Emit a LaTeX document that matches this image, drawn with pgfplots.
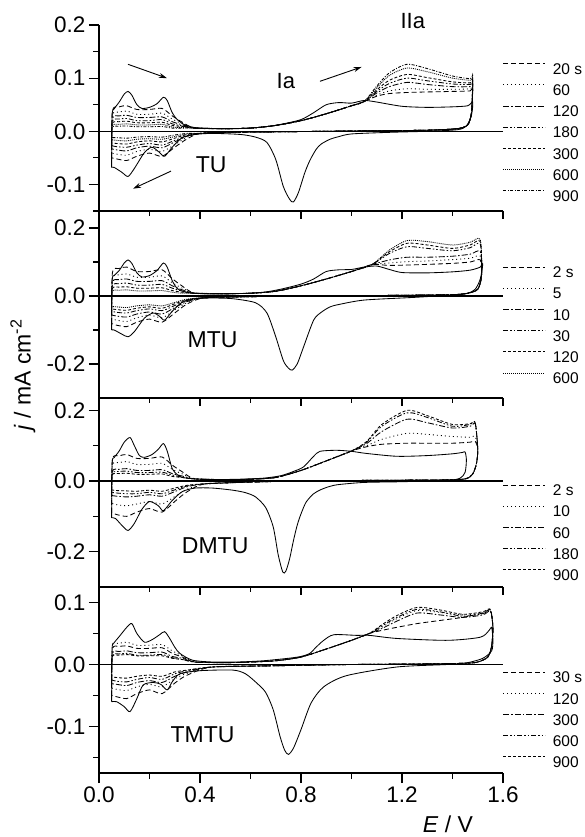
\documentclass[border=0pt]{standalone}
\usepackage{fontspec}
\setmainfont{Liberation Sans}
\usepackage{pgfplots}
\pgfplotsset{compat=1.18}
\usetikzlibrary{arrows.meta}

\pgfplotsset{
  cvbase/.style={
    scale only axis, width=404pt, anchor=south west,
    xmin=0, xmax=1.6, clip=false,
    axis line style={line width=1.2pt},
    every tick/.style={line width=1.1pt, black},
    major tick length=10pt, minor tick length=6pt,
    tick align=outside,
    /pgf/number format/.cd, fixed, fixed zerofill, precision=1, assume math mode=true, /pgfplots/.cd,
    ticklabel style={font=\fontsize{22.5}{22.5}\selectfont},
    axis y line*=left,
    legend cell align=left,
    legend style={draw=none, fill=none, anchor=north west, inner sep=0pt, outer sep=0pt,
      row sep=10pt, column sep=7pt, font=\fontsize{15.5}{15.5}\selectfont,
      nodes={inner sep=0pt, text height=10.75pt, text depth=0pt}},
    legend image code/.code={\draw[#1] (0pt,5.4pt) -- (42pt,5.4pt);},
  },
  topframe/.style={
    scale only axis, width=404pt, anchor=south west,
    xmin=0, xmax=1.6, ymin=0, ymax=1,
    axis y line=none, axis x line*=top, tick align=inside,
    axis line style={line width=1.2pt},
    every tick/.style={line width=1.1pt, black},
    major tick length=8pt, minor tick length=5pt,
    xtick={0,0.4,0.8,1.2,1.6}, minor xtick={0.2,0.6,1.0,1.4}, xticklabels={},
  },
  cv/.style={line width=0.85pt, smooth, tension=0.45},
  s1/.style={cv, dash pattern=on 5pt off 3pt},
  s2/.style={cv, dash pattern=on 1pt off 3pt},
  s3/.style={cv, dash pattern=on 6pt off 2pt on 1.5pt off 2pt},
  s4/.style={cv, dash pattern=on 5pt off 2pt on 1.5pt off 2pt on 1.5pt off 2pt},
  s5/.style={cv, dash pattern=on 3pt off 2pt},
  s6/.style={cv, dash pattern=on 1pt off 1pt},
  s7/.style={cv, dash pattern=on 3pt off 1.5pt on 1pt off 1.5pt},
  sol/.style={cv, solid},
  zeroline/.style={line width=1.4pt, forget plot},
}
\tikzset{cvarrow/.style={-{Stealth[length=8pt,width=5pt]}, line width=0.9pt}}

\begin{document}
\begin{tikzpicture}
\path[use as bounding box] (0pt,0pt) rectangle (585pt,837pt);

% ================= Panel 1: TU =================
\begin{axis}[cvbase, axis x line=none, at={(99pt,626pt)}, height=186pt,
  ymin=-0.15, ymax=0.2, ytick={-0.1,0,0.1,0.2}, minor ytick={-0.15,-0.05,0.05,0.15},
  legend style={at={(1,0.795)}}]
\addplot[zeroline] coordinates {(0,0) (1.6,0)};
\addplot[sol, forget plot] coordinates {(0.05,-0.068) (0.052,0.030) (0.06,0.042) (0.08,0.055) (0.10,0.070) (0.115,0.075) (0.13,0.068) (0.15,0.050) (0.17,0.043) (0.20,0.045) (0.23,0.052) (0.255,0.064) (0.27,0.058) (0.29,0.035) (0.31,0.022) (0.34,0.012) (0.38,0.007) (0.45,0.005) (0.55,0.005) (0.65,0.008) (0.72,0.013) (0.80,0.022) (0.85,0.035) (0.90,0.050) (0.95,0.054) (1.00,0.053) (1.05,0.058) (1.10,0.055) (1.20,0.047) (1.30,0.045) (1.40,0.046) (1.46,0.048) (1.48,0.055) (1.475,0.030) (1.455,0.010) (1.42,0.003) (1.30,0.000) (1.15,-0.002) (1.00,-0.005) (0.95,-0.010) (0.915,-0.015) (0.88,-0.024) (0.86,-0.034) (0.835,-0.055) (0.815,-0.078) (0.79,-0.115) (0.77,-0.133) (0.755,-0.128) (0.73,-0.104) (0.70,-0.053) (0.665,-0.021) (0.62,-0.011) (0.56,-0.006) (0.45,-0.004) (0.38,-0.006) (0.33,-0.012) (0.29,-0.030) (0.26,-0.047) (0.24,-0.040) (0.21,-0.030) (0.18,-0.040) (0.14,-0.070) (0.115,-0.085) (0.09,-0.077) (0.06,-0.068) (0.05,-0.068)};
\addplot[s1] coordinates {(0.05,-0.050) (0.053,0.038) (0.08,0.046) (0.11,0.048) (0.15,0.041) (0.20,0.041) (0.25,0.043) (0.29,0.029) (0.33,0.017) (0.38,0.006) (0.50,0.005) (0.60,0.006) (0.70,0.011) (0.80,0.020) (0.90,0.033) (1.00,0.048) (1.05,0.056) (1.10,0.066) (1.15,0.071) (1.22,0.073) (1.30,0.074) (1.40,0.075) (1.47,0.076) (1.48,0.080) (1.475,0.035) (1.46,0.012) (1.42,0.005) (1.30,0.002) (1.10,0.001) (0.90,0.000) (0.70,-0.001) (0.50,-0.002) (0.40,-0.004) (0.35,-0.014) (0.30,-0.030) (0.25,-0.047) (0.20,-0.041) (0.15,-0.047) (0.11,-0.055) (0.07,-0.052) (0.05,-0.050)};
\addlegendentry{20 s}
\addplot[s2] coordinates {(0.05,-0.041) (0.053,0.030) (0.08,0.036) (0.11,0.038) (0.15,0.032) (0.20,0.032) (0.25,0.034) (0.29,0.023) (0.33,0.014) (0.38,0.006) (0.50,0.005) (0.60,0.006) (0.70,0.011) (0.80,0.020) (0.90,0.033) (1.00,0.048) (1.05,0.056) (1.10,0.068) (1.15,0.076) (1.22,0.080) (1.30,0.079) (1.40,0.079) (1.47,0.080) (1.48,0.084) (1.475,0.035) (1.46,0.012) (1.42,0.005) (1.30,0.002) (1.10,0.001) (0.90,0.000) (0.70,-0.001) (0.50,-0.002) (0.40,-0.004) (0.35,-0.011) (0.30,-0.025) (0.25,-0.038) (0.20,-0.034) (0.15,-0.038) (0.11,-0.045) (0.07,-0.043) (0.05,-0.041)};
\addlegendentry{60}
\addplot[s3] coordinates {(0.05,-0.033) (0.053,0.024) (0.08,0.029) (0.11,0.030) (0.15,0.026) (0.20,0.026) (0.25,0.027) (0.29,0.018) (0.33,0.012) (0.38,0.006) (0.50,0.005) (0.60,0.006) (0.70,0.011) (0.80,0.020) (0.90,0.033) (1.00,0.048) (1.05,0.056) (1.10,0.072) (1.15,0.084) (1.22,0.092) (1.30,0.088) (1.40,0.084) (1.47,0.084) (1.48,0.088) (1.475,0.035) (1.46,0.012) (1.42,0.005) (1.30,0.002) (1.10,0.001) (0.90,0.000) (0.70,-0.001) (0.50,-0.002) (0.40,-0.004) (0.35,-0.009) (0.30,-0.020) (0.25,-0.031) (0.20,-0.028) (0.15,-0.031) (0.11,-0.037) (0.07,-0.035) (0.05,-0.033)};
\addlegendentry{120}
\addplot[s4] coordinates {(0.05,-0.027) (0.053,0.019) (0.08,0.023) (0.11,0.024) (0.15,0.020) (0.20,0.020) (0.25,0.022) (0.29,0.014) (0.33,0.010) (0.38,0.006) (0.50,0.005) (0.60,0.006) (0.70,0.011) (0.80,0.020) (0.90,0.033) (1.00,0.048) (1.05,0.056) (1.10,0.075) (1.15,0.090) (1.22,0.100) (1.30,0.095) (1.40,0.089) (1.47,0.088) (1.48,0.092) (1.475,0.035) (1.46,0.012) (1.42,0.005) (1.30,0.002) (1.10,0.001) (0.90,0.000) (0.70,-0.001) (0.50,-0.002) (0.40,-0.004) (0.35,-0.008) (0.30,-0.017) (0.25,-0.026) (0.20,-0.023) (0.15,-0.026) (0.11,-0.030) (0.07,-0.029) (0.05,-0.027)};
\addlegendentry{180}
\addplot[s5] coordinates {(0.05,-0.022) (0.053,0.015) (0.08,0.018) (0.11,0.019) (0.15,0.016) (0.20,0.016) (0.25,0.017) (0.29,0.011) (0.33,0.009) (0.38,0.006) (0.50,0.005) (0.60,0.006) (0.70,0.011) (0.80,0.020) (0.90,0.033) (1.00,0.048) (1.05,0.056) (1.10,0.078) (1.15,0.096) (1.22,0.107) (1.30,0.101) (1.40,0.093) (1.47,0.091) (1.48,0.095) (1.475,0.035) (1.46,0.012) (1.42,0.005) (1.30,0.002) (1.10,0.001) (0.90,0.000) (0.70,-0.001) (0.50,-0.002) (0.40,-0.004) (0.35,-0.006) (0.30,-0.013) (0.25,-0.020) (0.20,-0.018) (0.15,-0.020) (0.11,-0.024) (0.07,-0.023) (0.05,-0.022)};
\addlegendentry{300}
\addplot[s6] coordinates {(0.05,-0.016) (0.053,0.011) (0.08,0.013) (0.11,0.014) (0.15,0.012) (0.20,0.012) (0.25,0.013) (0.29,0.008) (0.33,0.007) (0.38,0.006) (0.50,0.005) (0.60,0.006) (0.70,0.011) (0.80,0.020) (0.90,0.033) (1.00,0.048) (1.05,0.056) (1.10,0.082) (1.15,0.105) (1.22,0.119) (1.30,0.112) (1.40,0.100) (1.47,0.096) (1.48,0.100) (1.475,0.035) (1.46,0.012) (1.42,0.005) (1.30,0.002) (1.10,0.001) (0.90,0.000) (0.70,-0.001) (0.50,-0.002) (0.40,-0.004) (0.35,-0.005) (0.30,-0.010) (0.25,-0.015) (0.20,-0.014) (0.15,-0.015) (0.11,-0.018) (0.07,-0.017) (0.05,-0.016)};
\addlegendentry{600}
\addplot[s7] coordinates {(0.05,-0.012) (0.053,0.008) (0.08,0.0095) (0.11,0.010) (0.15,0.0085) (0.20,0.0085) (0.25,0.009) (0.29,0.006) (0.33,0.006) (0.38,0.006) (0.50,0.005) (0.60,0.006) (0.70,0.011) (0.80,0.020) (0.90,0.033) (1.00,0.048) (1.05,0.056) (1.10,0.085) (1.15,0.110) (1.22,0.126) (1.30,0.118) (1.40,0.104) (1.47,0.099) (1.48,0.103) (1.475,0.035) (1.46,0.012) (1.42,0.005) (1.30,0.002) (1.10,0.001) (0.90,0.000) (0.70,-0.001) (0.50,-0.002) (0.40,-0.004) (0.35,-0.004) (0.30,-0.007) (0.25,-0.011) (0.20,-0.010) (0.15,-0.011) (0.11,-0.013) (0.07,-0.012) (0.05,-0.012)};
\addlegendentry{900}
\node[font=\fontsize{22}{22}\selectfont] at (axis cs:0.74,0.094) {Ia};
\node[font=\fontsize{22}{22}\selectfont] at (axis cs:1.243,0.2075) {IIa};
\node[font=\fontsize{23}{23}\selectfont] at (axis cs:0.444,-0.062) {TU};
\draw[cvarrow] (axis cs:0.115,0.126) -- (axis cs:0.269,0.100);
\draw[cvarrow] (axis cs:0.285,-0.075) -- (axis cs:0.135,-0.108);
\draw[cvarrow] (axis cs:0.875,0.094) -- (axis cs:1.04,0.121);
\end{axis}

% ================= Panel 2: MTU =================
\begin{axis}[cvbase, axis x line=none, at={(99pt,439pt)}, height=187pt,
  ymin=-0.3, ymax=0.25, ytick={-0.2,0,0.2}, minor ytick={-0.1,0.1},
  legend style={at={(1,0.703)}}]
\addplot[zeroline] coordinates {(0,0) (1.6,0)};
\addplot[sol, forget plot] coordinates {(0.05,-0.100) (0.052,0.045) (0.06,0.060) (0.08,0.075) (0.10,0.097) (0.115,0.106) (0.13,0.096) (0.15,0.068) (0.17,0.056) (0.20,0.060) (0.23,0.075) (0.255,0.097) (0.27,0.085) (0.29,0.045) (0.31,0.022) (0.34,0.012) (0.38,0.008) (0.45,0.006) (0.55,0.007) (0.65,0.011) (0.72,0.020) (0.80,0.035) (0.85,0.050) (0.90,0.072) (0.95,0.077) (1.00,0.078) (1.05,0.085) (1.10,0.088) (1.15,0.078) (1.20,0.069) (1.30,0.068) (1.40,0.071) (1.47,0.076) (1.51,0.085) (1.52,0.095) (1.51,0.050) (1.49,0.020) (1.46,0.008) (1.40,0.003) (1.25,-0.004) (1.05,-0.012) (0.95,-0.025) (0.915,-0.032) (0.88,-0.048) (0.85,-0.071) (0.81,-0.150) (0.785,-0.200) (0.765,-0.218) (0.75,-0.212) (0.73,-0.190) (0.70,-0.120) (0.665,-0.050) (0.62,-0.020) (0.53,-0.008) (0.45,-0.006) (0.38,-0.008) (0.33,-0.018) (0.29,-0.045) (0.26,-0.071) (0.24,-0.060) (0.215,-0.050) (0.18,-0.065) (0.14,-0.105) (0.115,-0.120) (0.09,-0.112) (0.06,-0.100) (0.05,-0.100)};
\addplot[s1] coordinates {(0.05,-0.081) (0.053,0.068) (0.08,0.081) (0.11,0.085) (0.15,0.072) (0.20,0.072) (0.25,0.077) (0.29,0.051) (0.33,0.029) (0.38,0.008) (0.50,0.007) (0.60,0.008) (0.70,0.014) (0.80,0.030) (0.90,0.050) (1.00,0.072) (1.08,0.092) (1.15,0.090) (1.22,0.091) (1.30,0.093) (1.40,0.096) (1.47,0.100) (1.51,0.106) (1.515,0.060) (1.50,0.020) (1.46,0.008) (1.40,0.004) (1.20,0.002) (1.00,0.001) (0.80,0.000) (0.60,-0.002) (0.42,-0.005) (0.35,-0.023) (0.30,-0.050) (0.25,-0.077) (0.20,-0.068) (0.15,-0.077) (0.11,-0.090) (0.07,-0.086) (0.05,-0.081)};
\addlegendentry{2 s}
\addplot[s2] coordinates {(0.05,-0.068) (0.053,0.052) (0.08,0.062) (0.11,0.065) (0.15,0.055) (0.20,0.055) (0.25,0.059) (0.29,0.039) (0.33,0.023) (0.38,0.008) (0.50,0.007) (0.60,0.008) (0.70,0.014) (0.80,0.030) (0.90,0.050) (1.00,0.072) (1.08,0.092) (1.15,0.097) (1.22,0.101) (1.30,0.103) (1.40,0.107) (1.47,0.111) (1.51,0.117) (1.515,0.060) (1.50,0.020) (1.46,0.008) (1.40,0.004) (1.20,0.002) (1.00,0.001) (0.80,0.000) (0.60,-0.002) (0.42,-0.005) (0.35,-0.019) (0.30,-0.041) (0.25,-0.064) (0.20,-0.056) (0.15,-0.064) (0.11,-0.075) (0.07,-0.071) (0.05,-0.068)};
\addlegendentry{5}
\addplot[s3] coordinates {(0.05,-0.056) (0.053,0.040) (0.08,0.048) (0.11,0.050) (0.15,0.043) (0.20,0.043) (0.25,0.045) (0.29,0.030) (0.33,0.018) (0.38,0.008) (0.50,0.007) (0.60,0.008) (0.70,0.014) (0.80,0.030) (0.90,0.050) (1.00,0.072) (1.08,0.092) (1.15,0.106) (1.22,0.114) (1.30,0.114) (1.40,0.117) (1.47,0.123) (1.51,0.131) (1.515,0.060) (1.50,0.020) (1.46,0.008) (1.40,0.004) (1.20,0.002) (1.00,0.001) (0.80,0.000) (0.60,-0.002) (0.42,-0.005) (0.35,-0.016) (0.30,-0.034) (0.25,-0.053) (0.20,-0.047) (0.15,-0.053) (0.11,-0.062) (0.07,-0.059) (0.05,-0.056)};
\addlegendentry{10}
\addplot[s4] coordinates {(0.05,-0.045) (0.053,0.030) (0.08,0.036) (0.11,0.038) (0.15,0.032) (0.20,0.032) (0.25,0.034) (0.29,0.023) (0.33,0.014) (0.38,0.008) (0.50,0.007) (0.60,0.008) (0.70,0.014) (0.80,0.030) (0.90,0.050) (1.00,0.072) (1.08,0.092) (1.15,0.125) (1.22,0.145) (1.30,0.140) (1.40,0.133) (1.47,0.142) (1.51,0.153) (1.515,0.060) (1.50,0.020) (1.46,0.008) (1.40,0.004) (1.20,0.002) (1.00,0.001) (0.80,0.000) (0.60,-0.002) (0.42,-0.005) (0.35,-0.013) (0.30,-0.028) (0.25,-0.043) (0.20,-0.038) (0.15,-0.043) (0.11,-0.050) (0.07,-0.048) (0.05,-0.045)};
\addlegendentry{30}
\addplot[s5] coordinates {(0.05,-0.038) (0.053,0.022) (0.08,0.026) (0.11,0.027) (0.15,0.023) (0.20,0.023) (0.25,0.024) (0.29,0.016) (0.33,0.011) (0.38,0.008) (0.50,0.007) (0.60,0.008) (0.70,0.014) (0.80,0.030) (0.90,0.050) (1.00,0.072) (1.08,0.092) (1.15,0.130) (1.22,0.155) (1.30,0.150) (1.40,0.140) (1.47,0.150) (1.51,0.160) (1.515,0.060) (1.50,0.020) (1.46,0.008) (1.40,0.004) (1.20,0.002) (1.00,0.001) (0.80,0.000) (0.60,-0.002) (0.42,-0.005) (0.35,-0.011) (0.30,-0.023) (0.25,-0.036) (0.20,-0.032) (0.15,-0.036) (0.11,-0.042) (0.07,-0.040) (0.05,-0.038)};
\addlegendentry{120}
\addplot[s6] coordinates {(0.05,-0.031) (0.053,0.014) (0.08,0.017) (0.11,0.018) (0.15,0.015) (0.20,0.015) (0.25,0.016) (0.29,0.011) (0.33,0.008) (0.38,0.008) (0.50,0.007) (0.60,0.008) (0.70,0.014) (0.80,0.030) (0.90,0.050) (1.00,0.072) (1.08,0.092) (1.15,0.135) (1.22,0.163) (1.30,0.160) (1.40,0.150) (1.47,0.158) (1.51,0.166) (1.515,0.060) (1.50,0.020) (1.46,0.008) (1.40,0.004) (1.20,0.002) (1.00,0.001) (0.80,0.000) (0.60,-0.002) (0.42,-0.005) (0.35,-0.009) (0.30,-0.019) (0.25,-0.029) (0.20,-0.026) (0.15,-0.029) (0.11,-0.034) (0.07,-0.032) (0.05,-0.031)};
\addlegendentry{600}
\node[font=\fontsize{23}{23}\selectfont] at (axis cs:0.45,-0.13) {MTU};
\end{axis}
\begin{axis}[topframe, at={(99pt,439pt)}, height=187pt]
\end{axis}

% ================= Panel 3: DMTU =================
\begin{axis}[cvbase, axis x line=none, at={(99pt,250pt)}, height=189pt,
  ymin=-0.3, ymax=0.235, ytick={-0.2,0,0.2}, minor ytick={-0.1,0.1},
  legend style={at={(1,0.542)}}]
\addplot[zeroline] coordinates {(0,0) (1.6,0)};
\addplot[sol, forget plot] coordinates {(0.05,-0.104) (0.052,0.050) (0.06,0.066) (0.08,0.085) (0.10,0.110) (0.123,0.123) (0.14,0.100) (0.16,0.072) (0.18,0.067) (0.21,0.075) (0.235,0.090) (0.255,0.106) (0.27,0.085) (0.29,0.035) (0.31,0.018) (0.33,0.010) (0.38,0.006) (0.45,0.004) (0.55,0.005) (0.65,0.008) (0.72,0.015) (0.77,0.027) (0.81,0.040) (0.85,0.070) (0.875,0.084) (0.94,0.087) (1.00,0.084) (1.06,0.078) (1.18,0.070) (1.30,0.072) (1.40,0.077) (1.44,0.081) (1.45,0.082) (1.455,0.060) (1.45,0.025) (1.43,0.008) (1.38,0.002) (1.20,-0.002) (1.05,-0.004) (0.95,-0.010) (0.915,-0.015) (0.88,-0.024) (0.85,-0.036) (0.82,-0.060) (0.80,-0.093) (0.785,-0.125) (0.77,-0.169) (0.755,-0.220) (0.74,-0.255) (0.728,-0.258) (0.71,-0.210) (0.69,-0.130) (0.66,-0.075) (0.62,-0.045) (0.58,-0.033) (0.53,-0.026) (0.45,-0.020) (0.38,-0.020) (0.33,-0.030) (0.29,-0.055) (0.255,-0.084) (0.235,-0.070) (0.20,-0.058) (0.17,-0.080) (0.14,-0.120) (0.115,-0.140) (0.09,-0.125) (0.065,-0.106) (0.05,-0.104)};
\addplot[s1] coordinates {(0.05,-0.090) (0.053,0.060) (0.08,0.071) (0.11,0.075) (0.15,0.064) (0.20,0.064) (0.25,0.068) (0.29,0.045) (0.33,0.026) (0.38,0.006) (0.50,0.004) (0.60,0.005) (0.70,0.010) (0.80,0.030) (0.90,0.057) (1.00,0.085) (1.06,0.097) (1.12,0.104) (1.22,0.107) (1.30,0.107) (1.40,0.107) (1.47,0.110) (1.49,0.112) (1.50,0.090) (1.495,0.050) (1.48,0.020) (1.45,0.006) (1.35,0.003) (1.10,0.002) (0.80,0.000) (0.60,-0.003) (0.42,-0.008) (0.35,-0.030) (0.30,-0.058) (0.25,-0.088) (0.20,-0.078) (0.15,-0.088) (0.11,-0.100) (0.07,-0.095) (0.05,-0.090)};
\addlegendentry{2 s}
\addplot[s2] coordinates {(0.05,-0.063) (0.053,0.044) (0.08,0.052) (0.11,0.055) (0.15,0.047) (0.20,0.047) (0.25,0.050) (0.29,0.033) (0.33,0.020) (0.38,0.006) (0.50,0.004) (0.60,0.005) (0.70,0.010) (0.80,0.030) (0.90,0.057) (1.00,0.085) (1.06,0.100) (1.12,0.118) (1.22,0.135) (1.30,0.132) (1.40,0.126) (1.47,0.124) (1.49,0.126) (1.50,0.090) (1.495,0.050) (1.48,0.020) (1.45,0.006) (1.35,0.003) (1.10,0.002) (0.80,0.000) (0.60,-0.003) (0.42,-0.008) (0.35,-0.023) (0.30,-0.044) (0.25,-0.065) (0.20,-0.058) (0.15,-0.065) (0.11,-0.070) (0.07,-0.067) (0.05,-0.063)};
\addlegendentry{10}
\addplot[s3] coordinates {(0.05,-0.041) (0.053,0.028) (0.08,0.033) (0.11,0.035) (0.15,0.030) (0.20,0.030) (0.25,0.032) (0.29,0.021) (0.33,0.014) (0.38,0.006) (0.50,0.004) (0.60,0.005) (0.70,0.010) (0.80,0.030) (0.90,0.057) (1.00,0.085) (1.06,0.106) (1.12,0.140) (1.22,0.175) (1.30,0.165) (1.40,0.150) (1.47,0.155) (1.49,0.162) (1.50,0.090) (1.495,0.050) (1.48,0.020) (1.45,0.006) (1.35,0.003) (1.10,0.002) (0.80,0.000) (0.60,-0.003) (0.42,-0.008) (0.35,-0.016) (0.30,-0.030) (0.25,-0.043) (0.20,-0.039) (0.15,-0.043) (0.11,-0.045) (0.07,-0.043) (0.05,-0.041)};
\addlegendentry{60}
\addplot[s4] coordinates {(0.05,-0.032) (0.053,0.022) (0.08,0.027) (0.11,0.028) (0.15,0.024) (0.20,0.024) (0.25,0.025) (0.29,0.017) (0.33,0.011) (0.38,0.006) (0.50,0.004) (0.60,0.005) (0.70,0.010) (0.80,0.030) (0.90,0.057) (1.00,0.085) (1.06,0.110) (1.12,0.155) (1.22,0.193) (1.30,0.180) (1.40,0.155) (1.47,0.160) (1.49,0.165) (1.50,0.090) (1.495,0.050) (1.48,0.020) (1.45,0.006) (1.35,0.003) (1.10,0.002) (0.80,0.000) (0.60,-0.003) (0.42,-0.008) (0.35,-0.014) (0.30,-0.025) (0.25,-0.036) (0.20,-0.032) (0.15,-0.036) (0.11,-0.036) (0.07,-0.034) (0.05,-0.032)};
\addlegendentry{180}
\addplot[s5] coordinates {(0.05,-0.025) (0.053,0.018) (0.08,0.021) (0.11,0.022) (0.15,0.019) (0.20,0.019) (0.25,0.020) (0.29,0.013) (0.33,0.010) (0.38,0.006) (0.50,0.004) (0.60,0.005) (0.70,0.010) (0.80,0.030) (0.90,0.057) (1.00,0.085) (1.06,0.112) (1.12,0.160) (1.22,0.200) (1.30,0.185) (1.40,0.160) (1.47,0.162) (1.49,0.165) (1.50,0.090) (1.495,0.050) (1.48,0.020) (1.45,0.006) (1.35,0.003) (1.10,0.002) (0.80,0.000) (0.60,-0.003) (0.42,-0.008) (0.35,-0.012) (0.30,-0.020) (0.25,-0.029) (0.20,-0.026) (0.15,-0.029) (0.11,-0.028) (0.07,-0.027) (0.05,-0.025)};
\addlegendentry{900}
\node[font=\fontsize{23}{23}\selectfont] at (axis cs:0.46,-0.183) {DMTU};
\end{axis}
\begin{axis}[topframe, at={(99pt,250pt)}, height=189pt]
\end{axis}

% ================= Panel 4: TMTU =================
\begin{axis}[cvbase, at={(99pt,64pt)}, height=186pt,
  ymin=-0.175, ymax=0.125, ytick={-0.1,0,0.1}, minor ytick={-0.15,-0.05,0.05},
  axis x line*=bottom, xtick={0,0.4,0.8,1.2,1.6}, minor xtick={0.2,0.6,1.0,1.4},
  legend style={at={(1,0.545)}}]
\addplot[zeroline] coordinates {(0,0) (1.6,0)};
\addplot[sol, forget plot] coordinates {(0.05,-0.060) (0.052,0.026) (0.06,0.035) (0.08,0.045) (0.11,0.060) (0.13,0.066) (0.15,0.050) (0.18,0.036) (0.21,0.040) (0.24,0.048) (0.26,0.053) (0.28,0.042) (0.30,0.028) (0.32,0.018) (0.37,0.007) (0.45,0.004) (0.55,0.004) (0.65,0.006) (0.75,0.010) (0.80,0.013) (0.835,0.018) (0.86,0.028) (0.89,0.039) (0.93,0.048) (1.02,0.047) (1.07,0.047) (1.18,0.042) (1.38,0.039) (1.51,0.044) (1.545,0.055) (1.555,0.060) (1.56,0.040) (1.555,0.022) (1.52,0.010) (1.46,0.003) (1.38,0.000) (1.18,-0.004) (0.98,-0.018) (0.89,-0.036) (0.84,-0.062) (0.80,-0.105) (0.77,-0.135) (0.75,-0.145) (0.735,-0.138) (0.717,-0.116) (0.69,-0.073) (0.66,-0.045) (0.625,-0.030) (0.58,-0.015) (0.53,-0.009) (0.40,-0.010) (0.32,-0.015) (0.29,-0.028) (0.27,-0.041) (0.245,-0.032) (0.215,-0.029) (0.175,-0.033) (0.15,-0.055) (0.123,-0.076) (0.10,-0.068) (0.07,-0.060) (0.05,-0.060)};
\addplot[s1] coordinates {(0.05,-0.050) (0.053,0.024) (0.08,0.029) (0.11,0.030) (0.15,0.026) (0.20,0.026) (0.25,0.027) (0.29,0.018) (0.33,0.012) (0.38,0.004) (0.50,0.003) (0.60,0.004) (0.70,0.006) (0.80,0.012) (0.90,0.025) (1.00,0.039) (1.07,0.050) (1.12,0.055) (1.18,0.060) (1.26,0.066) (1.35,0.071) (1.44,0.076) (1.52,0.083) (1.55,0.088) (1.56,0.060) (1.555,0.030) (1.54,0.012) (1.50,0.004) (1.45,0.002) (1.30,0.001) (1.00,0.000) (0.70,-0.002) (0.45,-0.004) (0.35,-0.017) (0.30,-0.030) (0.25,-0.047) (0.20,-0.041) (0.15,-0.047) (0.11,-0.055) (0.07,-0.052) (0.05,-0.050)};
\addlegendentry{30 s}
\addplot[s2] coordinates {(0.05,-0.038) (0.053,0.029) (0.08,0.034) (0.11,0.036) (0.15,0.031) (0.20,0.031) (0.25,0.032) (0.29,0.022) (0.33,0.014) (0.38,0.004) (0.50,0.003) (0.60,0.004) (0.70,0.006) (0.80,0.012) (0.90,0.025) (1.00,0.039) (1.07,0.050) (1.12,0.060) (1.18,0.074) (1.26,0.087) (1.35,0.084) (1.44,0.080) (1.52,0.083) (1.55,0.088) (1.56,0.060) (1.555,0.030) (1.54,0.012) (1.50,0.004) (1.45,0.002) (1.30,0.001) (1.00,0.000) (0.70,-0.002) (0.45,-0.004) (0.35,-0.014) (0.30,-0.023) (0.25,-0.036) (0.20,-0.032) (0.15,-0.036) (0.11,-0.042) (0.07,-0.040) (0.05,-0.038)};
\addlegendentry{120}
\addplot[s3] coordinates {(0.05,-0.031) (0.053,0.018) (0.08,0.021) (0.11,0.022) (0.15,0.019) (0.20,0.019) (0.25,0.020) (0.29,0.013) (0.33,0.010) (0.38,0.004) (0.50,0.003) (0.60,0.004) (0.70,0.006) (0.80,0.012) (0.90,0.025) (1.00,0.039) (1.07,0.050) (1.12,0.058) (1.18,0.070) (1.26,0.083) (1.35,0.080) (1.44,0.076) (1.52,0.080) (1.55,0.086) (1.56,0.060) (1.555,0.030) (1.54,0.012) (1.50,0.004) (1.45,0.002) (1.30,0.001) (1.00,0.000) (0.70,-0.002) (0.45,-0.004) (0.35,-0.012) (0.30,-0.019) (0.25,-0.029) (0.20,-0.026) (0.15,-0.029) (0.11,-0.034) (0.07,-0.032) (0.05,-0.031)};
\addlegendentry{300}
\addplot[s4] coordinates {(0.05,-0.025) (0.053,0.014) (0.08,0.017) (0.11,0.018) (0.15,0.015) (0.20,0.015) (0.25,0.016) (0.29,0.011) (0.33,0.008) (0.38,0.004) (0.50,0.003) (0.60,0.004) (0.70,0.006) (0.80,0.012) (0.90,0.025) (1.00,0.039) (1.07,0.050) (1.12,0.062) (1.18,0.076) (1.26,0.089) (1.35,0.085) (1.44,0.078) (1.52,0.082) (1.55,0.087) (1.56,0.060) (1.555,0.030) (1.54,0.012) (1.50,0.004) (1.45,0.002) (1.30,0.001) (1.00,0.000) (0.70,-0.002) (0.45,-0.004) (0.35,-0.010) (0.30,-0.015) (0.25,-0.024) (0.20,-0.021) (0.15,-0.024) (0.11,-0.028) (0.07,-0.027) (0.05,-0.025)};
\addlegendentry{600}
\addplot[s5] coordinates {(0.05,-0.020) (0.053,0.013) (0.08,0.015) (0.11,0.016) (0.15,0.014) (0.20,0.014) (0.25,0.014) (0.29,0.010) (0.33,0.008) (0.38,0.004) (0.50,0.003) (0.60,0.004) (0.70,0.006) (0.80,0.012) (0.90,0.025) (1.00,0.039) (1.07,0.050) (1.12,0.064) (1.18,0.079) (1.26,0.092) (1.35,0.088) (1.44,0.081) (1.52,0.085) (1.55,0.089) (1.56,0.060) (1.555,0.030) (1.54,0.012) (1.50,0.004) (1.45,0.002) (1.30,0.001) (1.00,0.000) (0.70,-0.002) (0.45,-0.004) (0.35,-0.009) (0.30,-0.012) (0.25,-0.019) (0.20,-0.017) (0.15,-0.019) (0.11,-0.022) (0.07,-0.021) (0.05,-0.020)};
\addlegendentry{900}
\node[font=\fontsize{23}{23}\selectfont] at (axis cs:0.41,-0.113) {TMTU};
\end{axis}
\begin{axis}[topframe, at={(99pt,64pt)}, height=186pt]
\end{axis}

% axis titles
\node[rotate=90, font=\fontsize{23}{23}\selectfont] at (23pt,462pt) {\textit{j} / mA cm\textsuperscript{-2}};
\node[anchor=base, font=\fontsize{23}{23}\selectfont] at (448pt,5pt) {\textit{E} / V};
\end{tikzpicture}
\end{document}
